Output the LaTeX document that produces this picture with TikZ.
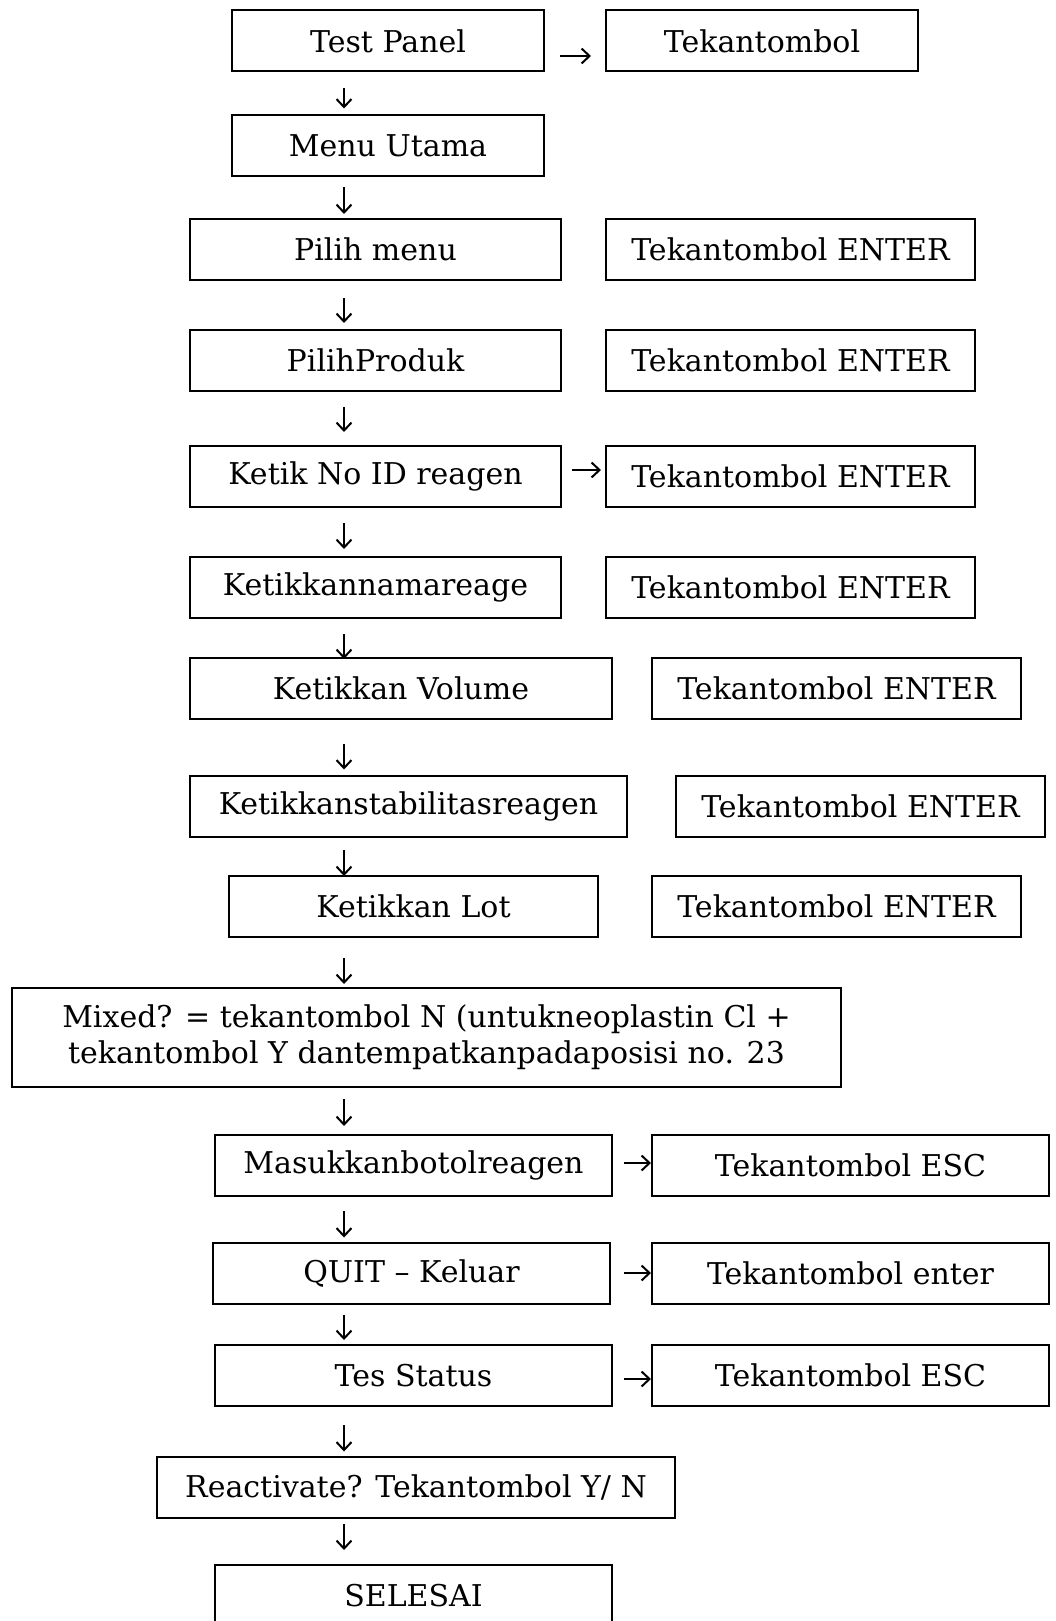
\documentclass[tikz,border=0pt]{standalone}
\usepackage{fontspec}
\setmainfont{DejaVu Serif}
\usetikzlibrary{arrows.meta}
\tikzset{
  box/.style={draw, line width=2pt, minimum height=61pt, inner sep=0pt,
    font=\fontsize{30}{36}\selectfont},
  down/.style={-{Straight Barb[length=8pt,width=15pt]}, line width=2pt},
  side/.style={-{Straight Barb[length=8pt,width=15pt]}, line width=2pt}
}
\begin{document}
\begin{tikzpicture}[x=1pt,y=-1pt]
\useasboundingbox (0,0) rectangle (1056,1621);
\coordinate (col) at (344,0);

% left column
\node[box, minimum width=312pt] (panel) at (388,41) {Test Panel};
\node[box, minimum width=312pt] (utama) at (388,146) {Menu Utama};
\node[box, minimum width=371pt] (pilih) at (375.5,249.5) {Pilih menu};
\node[box, minimum width=371pt] (produk) at (375.5,360.5) {PilihProduk};
\node[box, minimum width=371pt] (noid) at (375.5,476.5) {Ketik No ID reagen};
\node[box, minimum width=371pt] (nama) at (375.5,587.5) {Ketikkannamareage};
\node[box, minimum width=422pt] (volume) at (401,688.5) {Ketikkan Volume};
\node[box, minimum width=437pt] (stabil) at (408.5,806) {Ketikkanstabilitasreagen};
\node[box, minimum width=369pt] (lot) at (413.5,906.5) {Ketikkan Lot};
\node[box, minimum width=829pt, minimum height=99pt, align=center] (mixed) at (426.5,1037.5)
  {Mixed? = tekantombol N (untukneoplastin Cl +\\
   tekantombol Y dantempatkanpadaposisi no. 23};
\node[box, minimum width=397pt] (botol) at (413.5,1165.5) {Masukkanbotolreagen};
\node[box, minimum width=397pt] (quit) at (411.5,1273) {QUIT -- Keluar};
\node[box, minimum width=397pt] (status) at (413.5,1375.5) {Tes Status};
\node[box, minimum width=518pt] (reakt) at (416,1487) {Reactivate? Tekantombol Y/ N};
\node[box, minimum width=397pt] (selesai) at (413.5,1595.5) {SELESAI};

% right column
\node[box, minimum width=312pt] (tombol) at (762,41) {Tekantombol};
\node[box, minimum width=369pt] (enterA) at (790.5,249.5) {Tekantombol ENTER};
\node[box, minimum width=369pt] (enterB) at (790.5,360.5) {Tekantombol ENTER};
\node[box, minimum width=369pt] (enterC) at (790.5,476.5) {Tekantombol ENTER};
\node[box, minimum width=369pt] (enterD) at (790.5,587.5) {Tekantombol ENTER};
\node[box, minimum width=369pt] (enterE) at (836.5,688.5) {Tekantombol ENTER};
\node[box, minimum width=369pt] (enterF) at (860.5,806) {Tekantombol ENTER};
\node[box, minimum width=369pt] (enterG) at (836.5,906.5) {Tekantombol ENTER};
\node[box, minimum width=397pt] (escA) at (850.5,1165.5) {Tekantombol ESC};
\node[box, minimum width=397pt] (enterH) at (850.5,1273) {Tekantombol enter};
\node[box, minimum width=397pt] (escB) at (850.5,1375.5) {Tekantombol ESC};

% down arrows
\draw[down, shorten <=16pt, shorten >=6pt] (panel.south -| col) -- (utama.north -| col);
\draw[down, shorten <=10pt, shorten >=4pt] (utama.south -| col) -- (pilih.north -| col);
\draw[down, shorten <=17pt, shorten >=6pt] (pilih.south -| col) -- (produk.north -| col);
\draw[down, shorten <=15pt, shorten >=13pt] (produk.south -| col) -- (noid.north -| col);
\draw[down, shorten <=15pt, shorten >=7pt] (noid.south -| col) -- (nama.north -| col);
\draw[down, shorten <=15pt, shorten >=-2pt] (nama.south -| col) -- (volume.north -| col);
\draw[down, shorten <=24pt, shorten >=5pt] (volume.south -| col) -- (stabil.north -| col);
\draw[down, shorten <=12pt, shorten >=-1pt] (stabil.south -| col) -- (lot.north -| col);
\draw[down, shorten <=20pt, shorten >=3pt] (lot.south -| col) -- (mixed.north -| col);
\draw[down, shorten <=11pt, shorten >=8pt] (mixed.south -| col) -- (botol.north -| col);
\draw[down, shorten <=14pt, shorten >=4pt] (botol.south -| col) -- (quit.north -| col);
\draw[down, shorten <=10pt, shorten >=4pt] (quit.south -| col) -- (status.north -| col);
\draw[down, shorten <=18pt, shorten >=4pt] (status.south -| col) -- (reakt.north -| col);
\draw[down, shorten <=5pt, shorten >=14pt] (reakt.south -| col) -- (selesai.north -| col);

% side arrows
\draw[side, shorten <=15pt, shorten >=14pt] ([yshift=-15pt]panel.east) -- ([yshift=-15pt]tombol.west);
\draw[side, shorten <=10pt, shorten >=4pt] ([yshift=6.5pt]noid.east) -- ([yshift=6.5pt]enterC.west);
\draw[side, shorten <=11pt] ([yshift=2.5pt]botol.east) -- ([yshift=2.5pt]escA.west);
\draw[side, shorten <=13pt] (quit.east) -- (enterH.west);
\draw[side, shorten <=11pt] ([yshift=-3.5pt]status.east) -- ([yshift=-3.5pt]escB.west);
\end{tikzpicture}
\end{document}
